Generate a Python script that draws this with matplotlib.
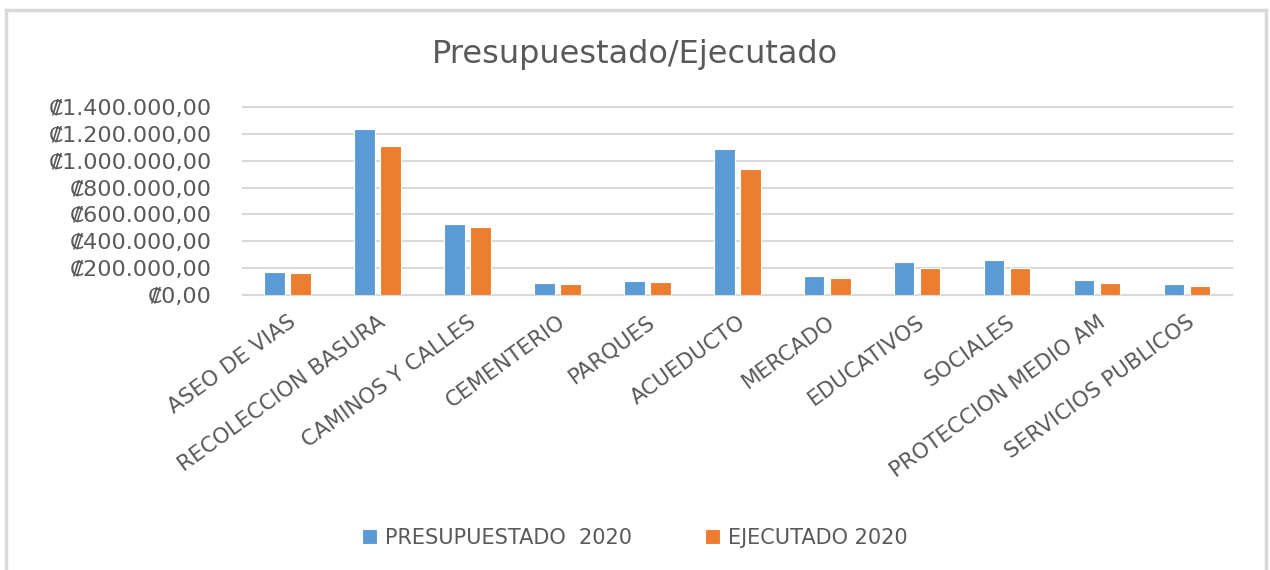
import numpy as np
import matplotlib.pyplot as plt
from matplotlib.lines import Line2D
from matplotlib.ticker import FuncFormatter

categorias = [
    "ASEO DE VIAS",
    "RECOLECCION BASURA",
    "CAMINOS Y CALLES",
    "CEMENTERIO",
    "PARQUES",
    "ACUEDUCTO",
    "MERCADO",
    "EDUCATIVOS",
    "SOCIALES",
    "PROTECCION MEDIO AM",
    "SERVICIOS PUBLICOS",
]
presupuestado = [168000, 1237000, 525000, 87000, 106000, 1087000,
                 145000, 248000, 258000, 108000, 80000]
ejecutado = [161000, 1106000, 507000, 79000, 97000, 938000,
             125000, 200000, 200000, 88000, 70000]
yticks = [0, 200000, 400000, 600000, 800000, 1000000, 1200000, 1400000]

azul = "#5B9BD5"
naranja = "#ED7D31"
gris_texto = "#595959"
gris_linea = "#D9D9D9"

plt.rcParams["font.family"] = ["DejaVu Sans"]


def colones(v, pos=None):
    s = f"{v:,.2f}"
    s = s.replace(",", "X").replace(".", ",").replace("X", ".")
    return "\u20a1" + s


fig = plt.figure(figsize=(12.7, 5.7), dpi=100)
ax = fig.add_axes([0.191, 0.4825, 0.779, 0.3298])

x = np.arange(len(categorias))
w = 0.23
ax.bar(x - 0.145, presupuestado, w, color=azul, edgecolor="white",
       linewidth=0.8, label="PRESUPUESTADO  2020", zorder=3)
ax.bar(x + 0.145, ejecutado, w, color=naranja, edgecolor="white",
       linewidth=0.8, label="EJECUTADO 2020", zorder=3)

ax.set_xlim(-0.5, len(categorias) - 0.5)
ax.set_ylim(0, 1400000)
ax.set_yticks(yticks)
ax.yaxis.set_major_formatter(FuncFormatter(colones))
ax.yaxis.grid(True, color=gris_linea, linewidth=1.5, zorder=0, clip_on=False)
for gl in ax.get_ygridlines():
    gl.set_clip_on(False)
ax.set_axisbelow(True)
for s in ["top", "right", "left"]:
    ax.spines[s].set_visible(False)
ax.spines["bottom"].set_color(gris_linea)
ax.spines["bottom"].set_linewidth(1.5)
ax.tick_params(axis="both", length=0, colors=gris_texto)
ax.tick_params(axis="y", labelsize=16, pad=22)

ax.set_xticks(x)
ax.set_xticklabels(categorias, rotation=36, ha="right",
                   rotation_mode="anchor", fontsize=15.5, color=gris_texto)
ax.tick_params(axis="x", pad=12)

fig.text(0.5, 0.905, "Presupuestado/Ejecutado", ha="center", va="center",
         fontsize=23, color=gris_texto)

fig.legend(loc="center", bbox_to_anchor=(0.5, 0.057), ncol=2, frameon=False,
           fontsize=15, labelcolor=gris_texto, handlelength=0.7,
           handleheight=0.7, handletextpad=0.4, columnspacing=3.5)

# borde del grafico
for xs, ys in [([6 / 1270, 6 / 1270], [0, 1 - 10 / 570]),
               ([6 / 1270, 1266 / 1270], [1 - 10 / 570, 1 - 10 / 570]),
               ([1266 / 1270, 1266 / 1270], [0, 1 - 10 / 570])]:
    fig.add_artist(Line2D(xs, ys, color=gris_linea, linewidth=2.5,
                          transform=fig.transFigure))

fig.savefig("out.png", dpi=100)
